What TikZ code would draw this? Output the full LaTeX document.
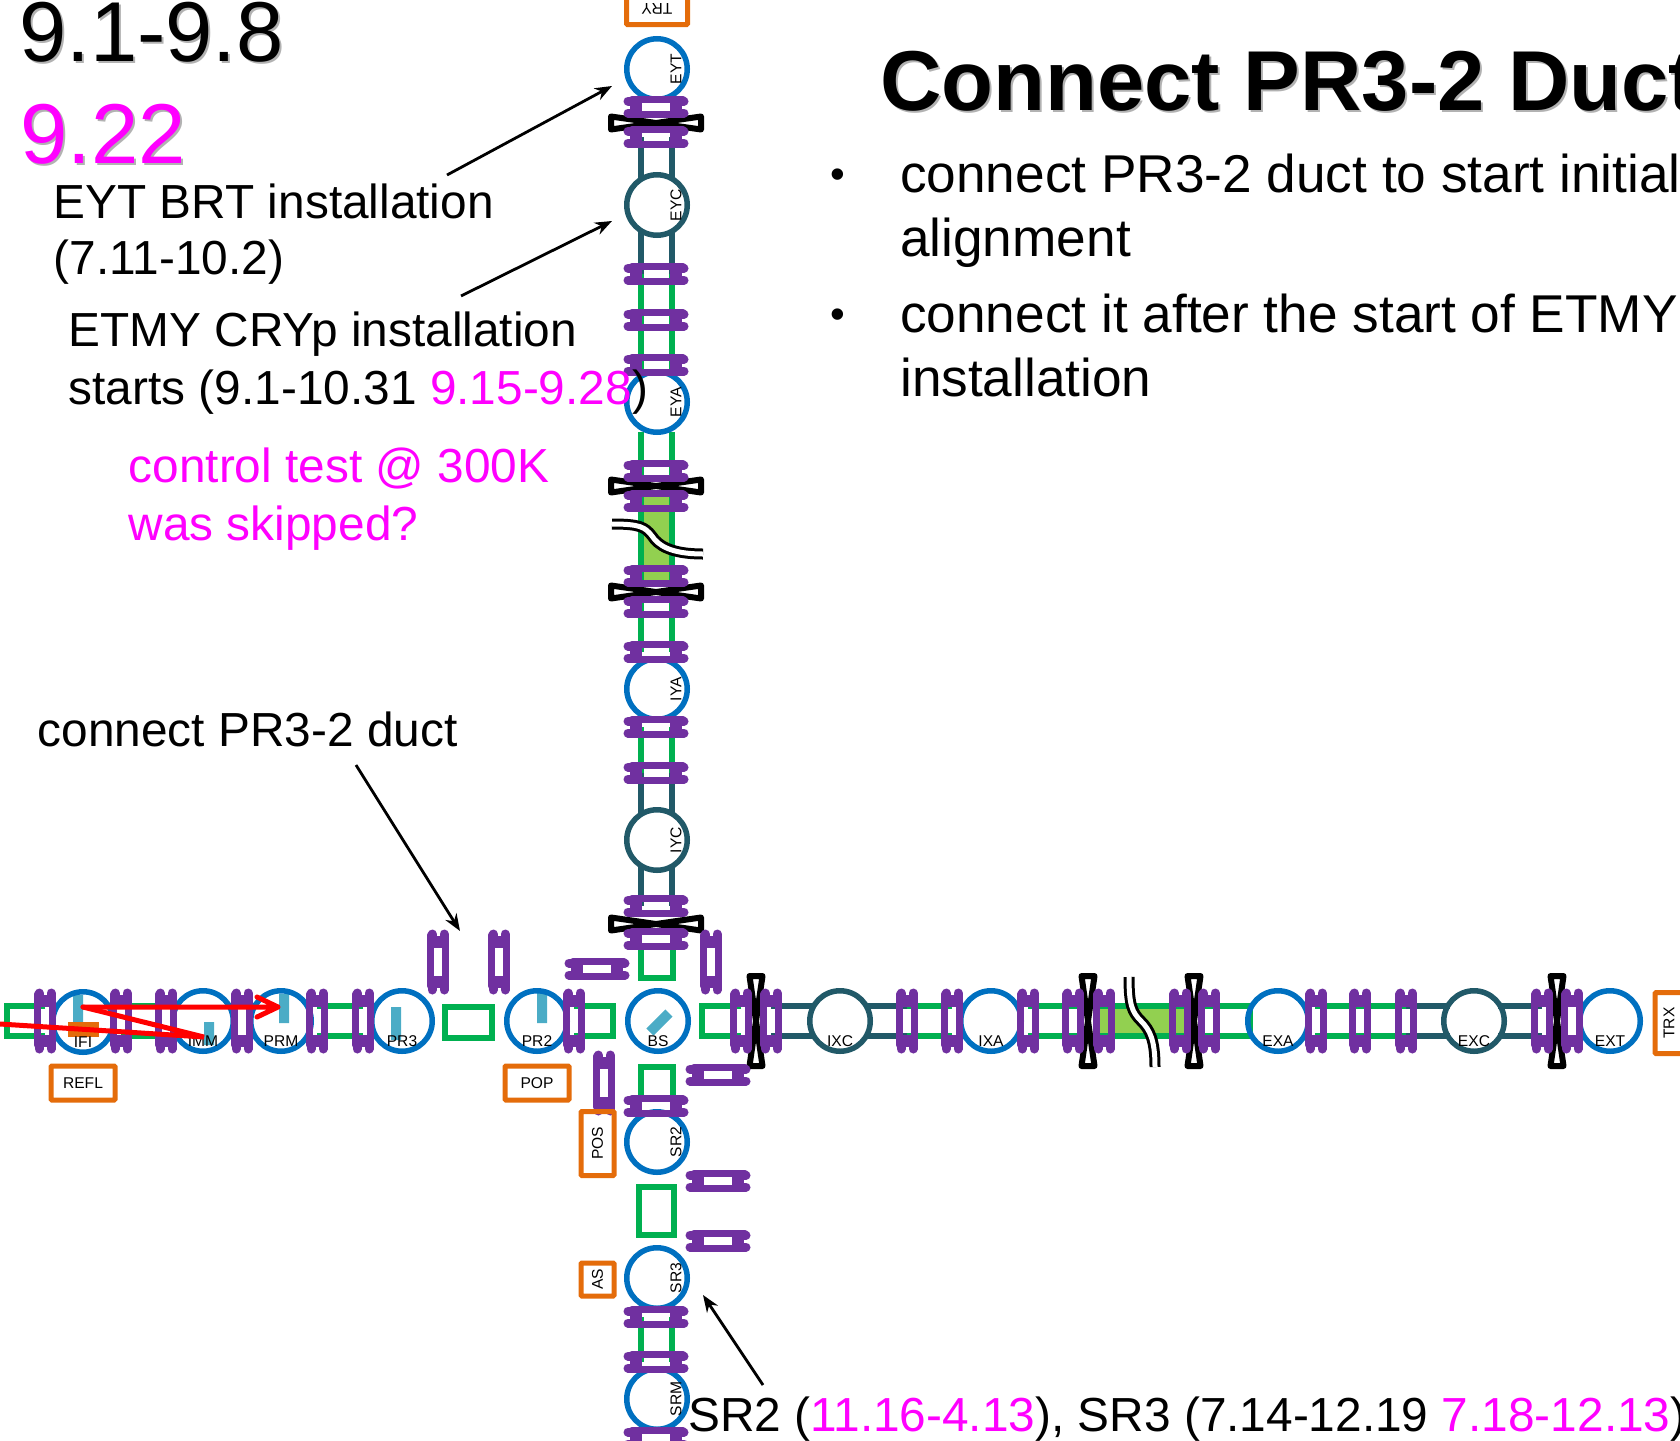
\documentclass[tikz,border=0pt]{standalone}
\usepackage{fontspec}
\setmainfont{Liberation Sans}
\usetikzlibrary{arrows.meta}
\definecolor{mirblue}{HTML}{0070C0}
\definecolor{cryoteal}{HTML}{215968}
\definecolor{ductgreen}{HTML}{00B050}
\definecolor{ductfill}{HTML}{92D050}
\definecolor{flangepurple}{HTML}{7030A0}
\definecolor{portorange}{HTML}{E46C0A}
\definecolor{optbar}{HTML}{4BACC6}
\definecolor{datemagenta}{HTML}{FF00FF}
\newcommand{\bigfont}{\fontsize{85}{85}\selectfont}
\newcommand{\midfont}{\fontsize{47.8}{47.8}\selectfont}
\newcommand{\bodyfont}{\fontsize{53.2}{53.2}\selectfont}
\newcommand{\dotfont}{\fontsize{42}{42}\selectfont}
\newcommand{\smallfont}{\fontsize{15.6}{15.6}\selectfont}
\newcommand{\shadowed}[4]{%
	\node[txt,#3,gray!60] at (#1+2,#2+2) {#4};
	\node[txt,#3] at (#1,#2) {#4};}
\tikzset{
	txt/.style={inner sep=0pt,anchor=base west},
	mir/.style={circle,draw=mirblue,line width=5.5pt,minimum size=60.5pt,inner sep=0pt},
	cryo/.style={mir,draw=cryoteal},
	lab/.style={inner sep=0pt,font=\smallfont},
	port/.style={draw=portorange,line width=5pt,rounded corners=1pt,inner sep=0pt,font=\smallfont},
	duct/.style={draw=ductgreen,line width=5.5pt},
	cduct/.style={draw=cryoteal,line width=5.5pt},
	bar/.style={draw=optbar,line width=10pt},
	ray/.style={draw=red,line width=5pt,line cap=round},
	note/.style={draw=black,line width=2.8pt,-{Stealth[length=17pt,width=13pt]}},
	wire/.style={draw=black,line width=3pt,double=white,double distance=5pt},
	pics/flange/.style={code={
		\draw[flangepurple,line width=9pt,line cap=round] (-28,-6)--(-19,-6) (-28,6)--(-19,6) (19,-6)--(28,-6) (19,6)--(28,6) ;
		\draw[flangepurple,line width=7pt,line cap=round] (-24,-7.5)--(27,-7.5) (-27,7.5)--(24,7.5) ;
		\draw[flangepurple,line width=12pt] (-20,-6)--(-20,6) (20,-6)--(20,6) ;
	}},
	pics/gatevalve/.style={code={
		\draw[black,line width=6pt,line join=round] (-45,-6.5)--(45,6.5)--(45,-6.5)--(-45,6.5)--cycle ;
	}},
}
\begin{document}
\begin{tikzpicture}[x=1pt,y=-1pt]
	\useasboundingbox (0,0) rectangle (1680,1440) ;
	\clip (0,0) rectangle (1680,1440) ;
	% ducts
	\fill[ductfill] (641,496) rectangle (672,584) (1098,1006) rectangle (1186,1036) ;
	\draw[cduct] (641,137)--(641,180) (672,137)--(672,180) (641,230)--(641,274) (672,230)--(672,274) ;
	\draw[duct] (641,274)--(641,372) (672,274)--(672,372) (641,432)--(641,652) (672,432)--(672,652) (641,727)--(641,773) (672,727)--(672,773) ;
	\draw[cduct] (641,773)--(641,815) (672,773)--(672,815) (641,865)--(641,906) (672,865)--(672,906) ;
	\draw[duct] (641,945)--(641,978)--(673,978)--(673,945) (641,1100)--(641,1067)--(673,1067)--(673,1100) (639,1187) rectangle (674,1235) ;
	\draw[duct] (641,1317)--(641,1362) (672,1317)--(672,1362) ;
	\draw[duct] (45,1006)--(7,1006)--(7,1036)--(45,1036) (121,1006)--(166,1006) (121,1036)--(166,1036) (317,1006)--(363,1006) (317,1036)--(363,1036) ;
	\draw[duct] (445,1007) rectangle (492,1038) ;
	\draw[duct] (574,1006)--(613,1006)--(613,1036)--(574,1036) (741,1006)--(702,1006)--(702,1036)--(741,1036) ;
	\draw[cduct] (771,1006)--(815,1006) (771,1036)--(815,1036) (865,1006)--(907,1006) (865,1036)--(907,1036) ;
	\draw[duct] (907,1006)--(952,1006) (907,1036)--(952,1036) (1028,1006)--(1250,1006)--(1250,1036)--(1028,1036) (1315,1006)--(1406,1006) (1315,1036)--(1406,1036) ;
	\draw[cduct] (1406,1006)--(1450,1006) (1406,1036)--(1450,1036) (1498,1006)--(1542,1006) (1498,1036)--(1542,1036) ;
	% optics
	\draw[bar] (78,995)--(78,1023) (209,1022)--(209,1045) (284,994)--(284,1023) (396,1007)--(396,1040) (542,992)--(542,1023) (650,1032)--(669,1013) ;
	\fill[portorange] (68,1022) rectangle (99,1037) ;
	% chambers
	\foreach \px/\py/\name in {83/1022/IFI,203/1021/IMM,281/1021/PRM,402/1021/PR3,537/1021/PR2,658/1021/BS,991/1021/IXA,1278/1021/EXA,1610/1021/EXT}
		\node[mir] (\name) at (\px,\py) {} ;
	\foreach \px/\name in {840/IXC,1474/EXC}
		\node[cryo] (\name) at (\px,1021) {} ;
	\foreach \py/\name in {69/EYT,402/EYA,689/IYA,1142/SR2,1278/SR3,1399/SRM}
		\node[mir] (\name) at (657,\py) {} ;
	\foreach \py/\name in {205/EYC,840/IYC}
		\node[cryo] (\name) at (657,\py) {} ;
	% valves and bellows
	\foreach \py in {123,486,592,924}
		\pic at (656,\py) {gatevalve} ;
	\foreach \px in {756,1088,1194,1557}
		\pic[rotate=90] at (\px,1021) {gatevalve} ;
	\foreach \py in {107,137,274,320,365,471,501,576,607,652,727,773,906,939,1106,1317,1362,1438}
		\pic at (656,\py) {flange} ;
	\foreach \px/\py in {597/969,718/1075,718/1181,718/1241}
		\pic at (\px,\py) {flange} ;
	\foreach \px in {45,121,166,242,317,363,574,741,771,907,952,1028,1073,1104,1180,1209,1316,1360,1406,1542,1572}
		\pic[rotate=90] at (\px,1021) {flange} ;
	\foreach \px/\py in {438/962,499/962,711/962,604/1083}
		\pic[rotate=90] at (\px,\py) {flange} ;
	\draw[wire] (612,524) .. controls (640,524) and (645,527) .. (652,536) .. controls (658,545) and (670,554) .. (703,554) ;
	\draw[wire] (1129,977) .. controls (1129,1005) and (1132,1012) .. (1141,1021) .. controls (1150,1030) and (1155,1040) .. (1155,1067) ;
	% ports
	\node[port,minimum width=64pt,minimum height=34pt] (REFL) at (83,1083) {REFL} ;
	\node[port,minimum width=64pt,minimum height=34pt] (POP) at (537,1083) {POP} ;
	\node[port,minimum width=64pt,minimum height=33pt,rotate=90] (POS) at (597.5,1143.5) {POS} ;
	\node[port,minimum width=33pt,minimum height=33pt,rotate=90] (AS) at (597.5,1279.5) {AS} ;
	\node[port,minimum width=61pt,minimum height=32pt,rotate=180] (TRY) at (657,8.5) {TRY} ;
	\node[port,minimum width=40pt,minimum height=61pt] (TRXbox) at (1675,1023) {} ;
	\path (TRXbox) ++(-6,0) node[lab,rotate=90] (TRX) {TRX} ;
	% chamber labels
	\foreach \name in {IFI,IMM,PRM,PR3,PR2,BS,IXC,IXA,EXA,EXC,EXT}
		\path (\name) ++(0,20) node[lab] {\name} ;
	\foreach \name in {EYT,EYC,EYA,IYA,IYC,SR2,SR3,SRM}
		\path (\name) ++(19,0) node[lab,rotate=90] {\name} ;
	% beam
	\draw[ray] (0,1024)--(204,1037)--(83,1007) ;
	\draw[ray,line join=round] (83,1007)--(278,1007) (257,997)--(278,1007)--(257,1017) ;
	% text
	\shadowed{19}{61}{font=\bigfont}{9.1-9.8}
	\shadowed{20}{163}{font=\bigfont,datemagenta}{9.22}
	\shadowed{880}{110}{font=\bigfont\bfseries}{Connect PR3-2 Duct}
	\node[txt,font=\midfont] (eytnote) at (53.5,218) {EYT BRT installation} ;
	\node[txt,font=\midfont] at (53.5,274.5) {(7.11-10.2)} ;
	\node[txt,font=\midfont] (etmynote) at (68.5,346) {ETMY CRYp installation} ;
	\node[txt,font=\midfont] at (68.5,404) {starts (9.1-10.31 \textcolor{datemagenta}{9.15-9.28})} ;
	\node[txt,font=\midfont,datemagenta] at (128.5,482) {control test @ 300K} ;
	\node[txt,font=\midfont,datemagenta] at (128.5,540) {was skipped?} ;
	\node[txt,font=\midfont] (ductnote) at (37.5,746) {connect PR3-2 duct} ;
	\node[txt,font=\midfont] (srnote) at (688,1431) {SR2 (\textcolor{datemagenta}{11.16-4.13}), SR3 (7.14-12.19 \textcolor{datemagenta}{7.18-12.13})} ;
	\node[txt,font=\dotfont] at (830,188) {•} ;
	\node[txt,font=\bodyfont] at (900,192) {connect PR3-2 duct to start initial} ;
	\node[txt,font=\bodyfont] at (900,256) {alignment} ;
	\node[txt,font=\dotfont] at (830,328) {•} ;
	\node[txt,font=\bodyfont] at (900,332) {connect it after the start of ETMY} ;
	\node[txt,font=\bodyfont] at (900,396) {installation} ;
	% arrows
	\coordinate (eyttip) at (612,86) ;
	\coordinate (eyctip) at (612,221) ;
	\coordinate (ducttip) at (460,931) ;
	\coordinate (sr3tip) at (703,1295) ;
	\draw[note] (447,175)--(eyttip) ;
	\draw[note] (461,296)--(eyctip) ;
	\draw[note] (356,765)--(ducttip) ;
	\draw[note] (763,1385)--(sr3tip) ;
\end{tikzpicture}
\end{document}
